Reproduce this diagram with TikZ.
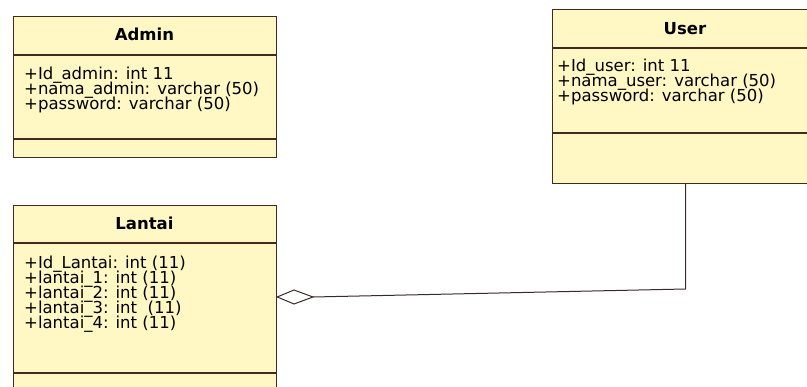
\documentclass[tikz,border=0pt]{standalone}
\usepackage{fontspec}
\setmainfont{DejaVu Sans}
\definecolor{boxfill}{RGB}{255,248,196}
\definecolor{boxline}{RGB}{72,40,30}
\definecolor{linkline}{RGB}{60,40,40}
\begin{document}
\begin{tikzpicture}[x=1pt,y=-1pt,
  classbox/.style={draw=boxline, fill=boxfill, line width=1.2pt, rectangle, anchor=north west, inner sep=0pt},
  sepline/.style={draw=boxline, line width=1.2pt},
  ctitle/.style={anchor=base, inner sep=0pt, font=\fontsize{16.5}{15}\selectfont\bfseries},
  attr/.style={anchor=base west, inner sep=0pt, font=\fontsize{16.5}{15}\selectfont},
  link/.style={draw=linkline, line width=1pt},
  aggr/.style={draw=linkline, line width=1pt, fill=white}
]
\useasboundingbox (0,0) rectangle (807,387);
\clip (0,0) rectangle (807,387);

% Admin
\node[classbox, minimum width=263pt, minimum height=141pt] (admin) at (13,16) {};
\draw[sepline] (13,55) -- (276,55);
\draw[sepline] (13,139) -- (276,139);
\node[ctitle] (admint) at (144.5,41) {Admin};
\node[attr] (a1) at (24,80) {+Id\_admin: int 11};
\node[attr] (a2) at (24,95) {+nama\_admin: varchar (50)};
\node[attr] (a3) at (24,110) {+password: varchar (50)};

% User
\node[classbox, minimum width=266pt, minimum height=174pt] (user) at (552,9) {};
\draw[sepline] (552,48) -- (818,48);
\draw[sepline] (552,133) -- (818,133);
\node[ctitle] (usert) at (685,35) {User};
\node[attr] (u1) at (557,72) {+Id\_user: int 11};
\node[attr] (u2) at (557,87) {+nama\_user: varchar (50)};
\node[attr] (u3) at (557,102) {+password: varchar (50)};

% Lantai
\node[classbox, minimum width=263pt, minimum height=190pt] (lantai) at (13,205) {};
\draw[sepline] (13,243) -- (276,243);
\draw[sepline] (13,373) -- (276,373);
\node[ctitle] (lantait) at (144.5,230) {Lantai};
\node[attr] (l1) at (24,269) {+Id\_Lantai: int (11)};
\node[attr] (l2) at (24,284) {+lantai\_1: int (11)};
\node[attr] (l3) at (24,299) {+lantai\_2: int (11)};
\node[attr] (l4) at (24,314) {+lantai\_3: int \ (11)};
\node[attr] (l5) at (24,329) {+lantai\_4: int (11)};

% Aggregation link
\coordinate (dl) at (lantai.east |- 0,297);
\coordinate (dt) at (294,290);
\coordinate (dr) at (313,297);
\coordinate (db) at (294,304);
\coordinate (bend) at (user.south |- 0,289);
\draw[aggr] (dl) -- (dt) -- (dr) -- (db) -- cycle;
\draw[link] (dr) -- (bend) -- (user.south);
\end{tikzpicture}
\end{document}
